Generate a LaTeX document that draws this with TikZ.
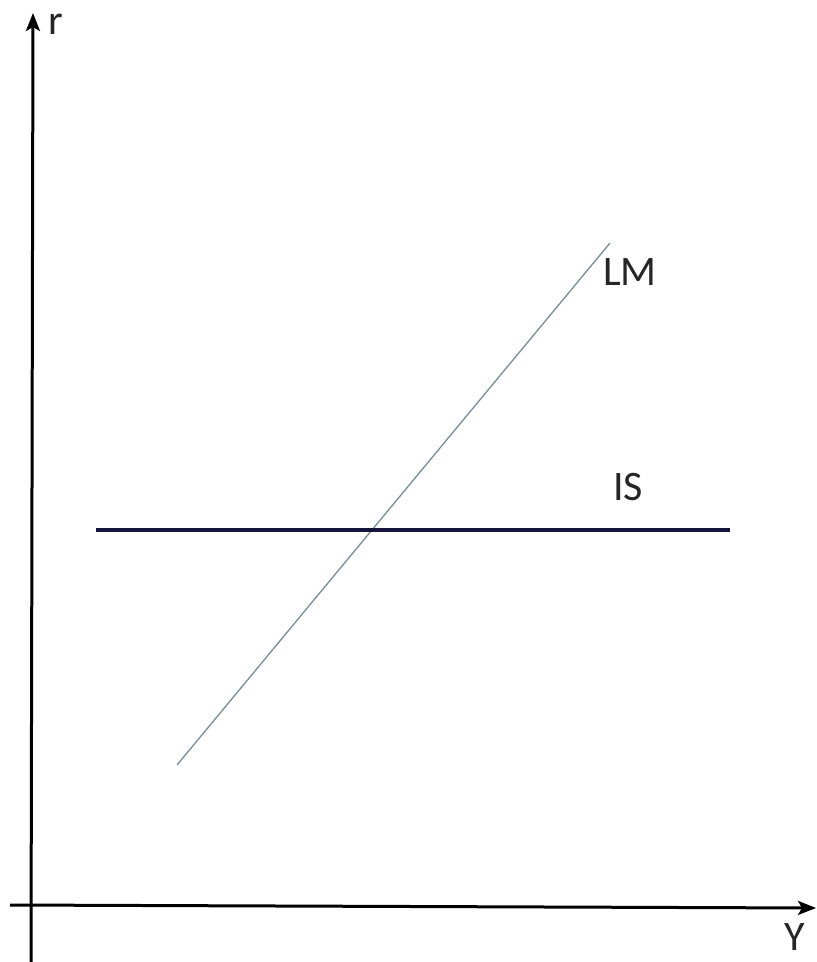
\documentclass[tikz,border=0pt]{standalone}
\usepackage{fontspec}
\setmainfont{Carlito}
\usetikzlibrary{arrows.meta}
\begin{document}
\begin{tikzpicture}[x=1pt,y=-1pt,
  axis/.style={line width=3pt,-{Stealth[length=18pt,width=14pt,inset=4pt]}},
  lbl/.style={font=\fontsize{42}{48}\selectfont,inner sep=0pt,text=black!85},
  lmline/.style={line width=1.3pt,draw={rgb,255:red,120;green,140;blue,150}},
  isline/.style={line width=3.2pt,draw={rgb,255:red,20;green,20;blue,60}}]
\useasboundingbox (0,0) rectangle (817,962);
\coordinate (ybot) at (31,962);
\coordinate (ytop) at (33,13);
\coordinate (xl) at (10,905);
\coordinate (xr) at (816,908);
\draw[axis] (ybot) -- (ytop);
\draw[axis] (xl) -- (xr);
\node[lbl] (r) at (56,24) {r};
\node[lbl] (Y) at (795,937) {Y};
\coordinate (lma) at (177,765);
\coordinate (lmb) at (610,243);
\draw[lmline] (lma) -- (lmb);
\coordinate (isa) at (96,530);
\coordinate (isb) at (730,530);
\draw[isline] (isa) -- (isb);
\node[lbl] (LM) at (630,272) {LM};
\node[lbl] (IS) at (628,487) {IS};
\end{tikzpicture}
\end{document}
